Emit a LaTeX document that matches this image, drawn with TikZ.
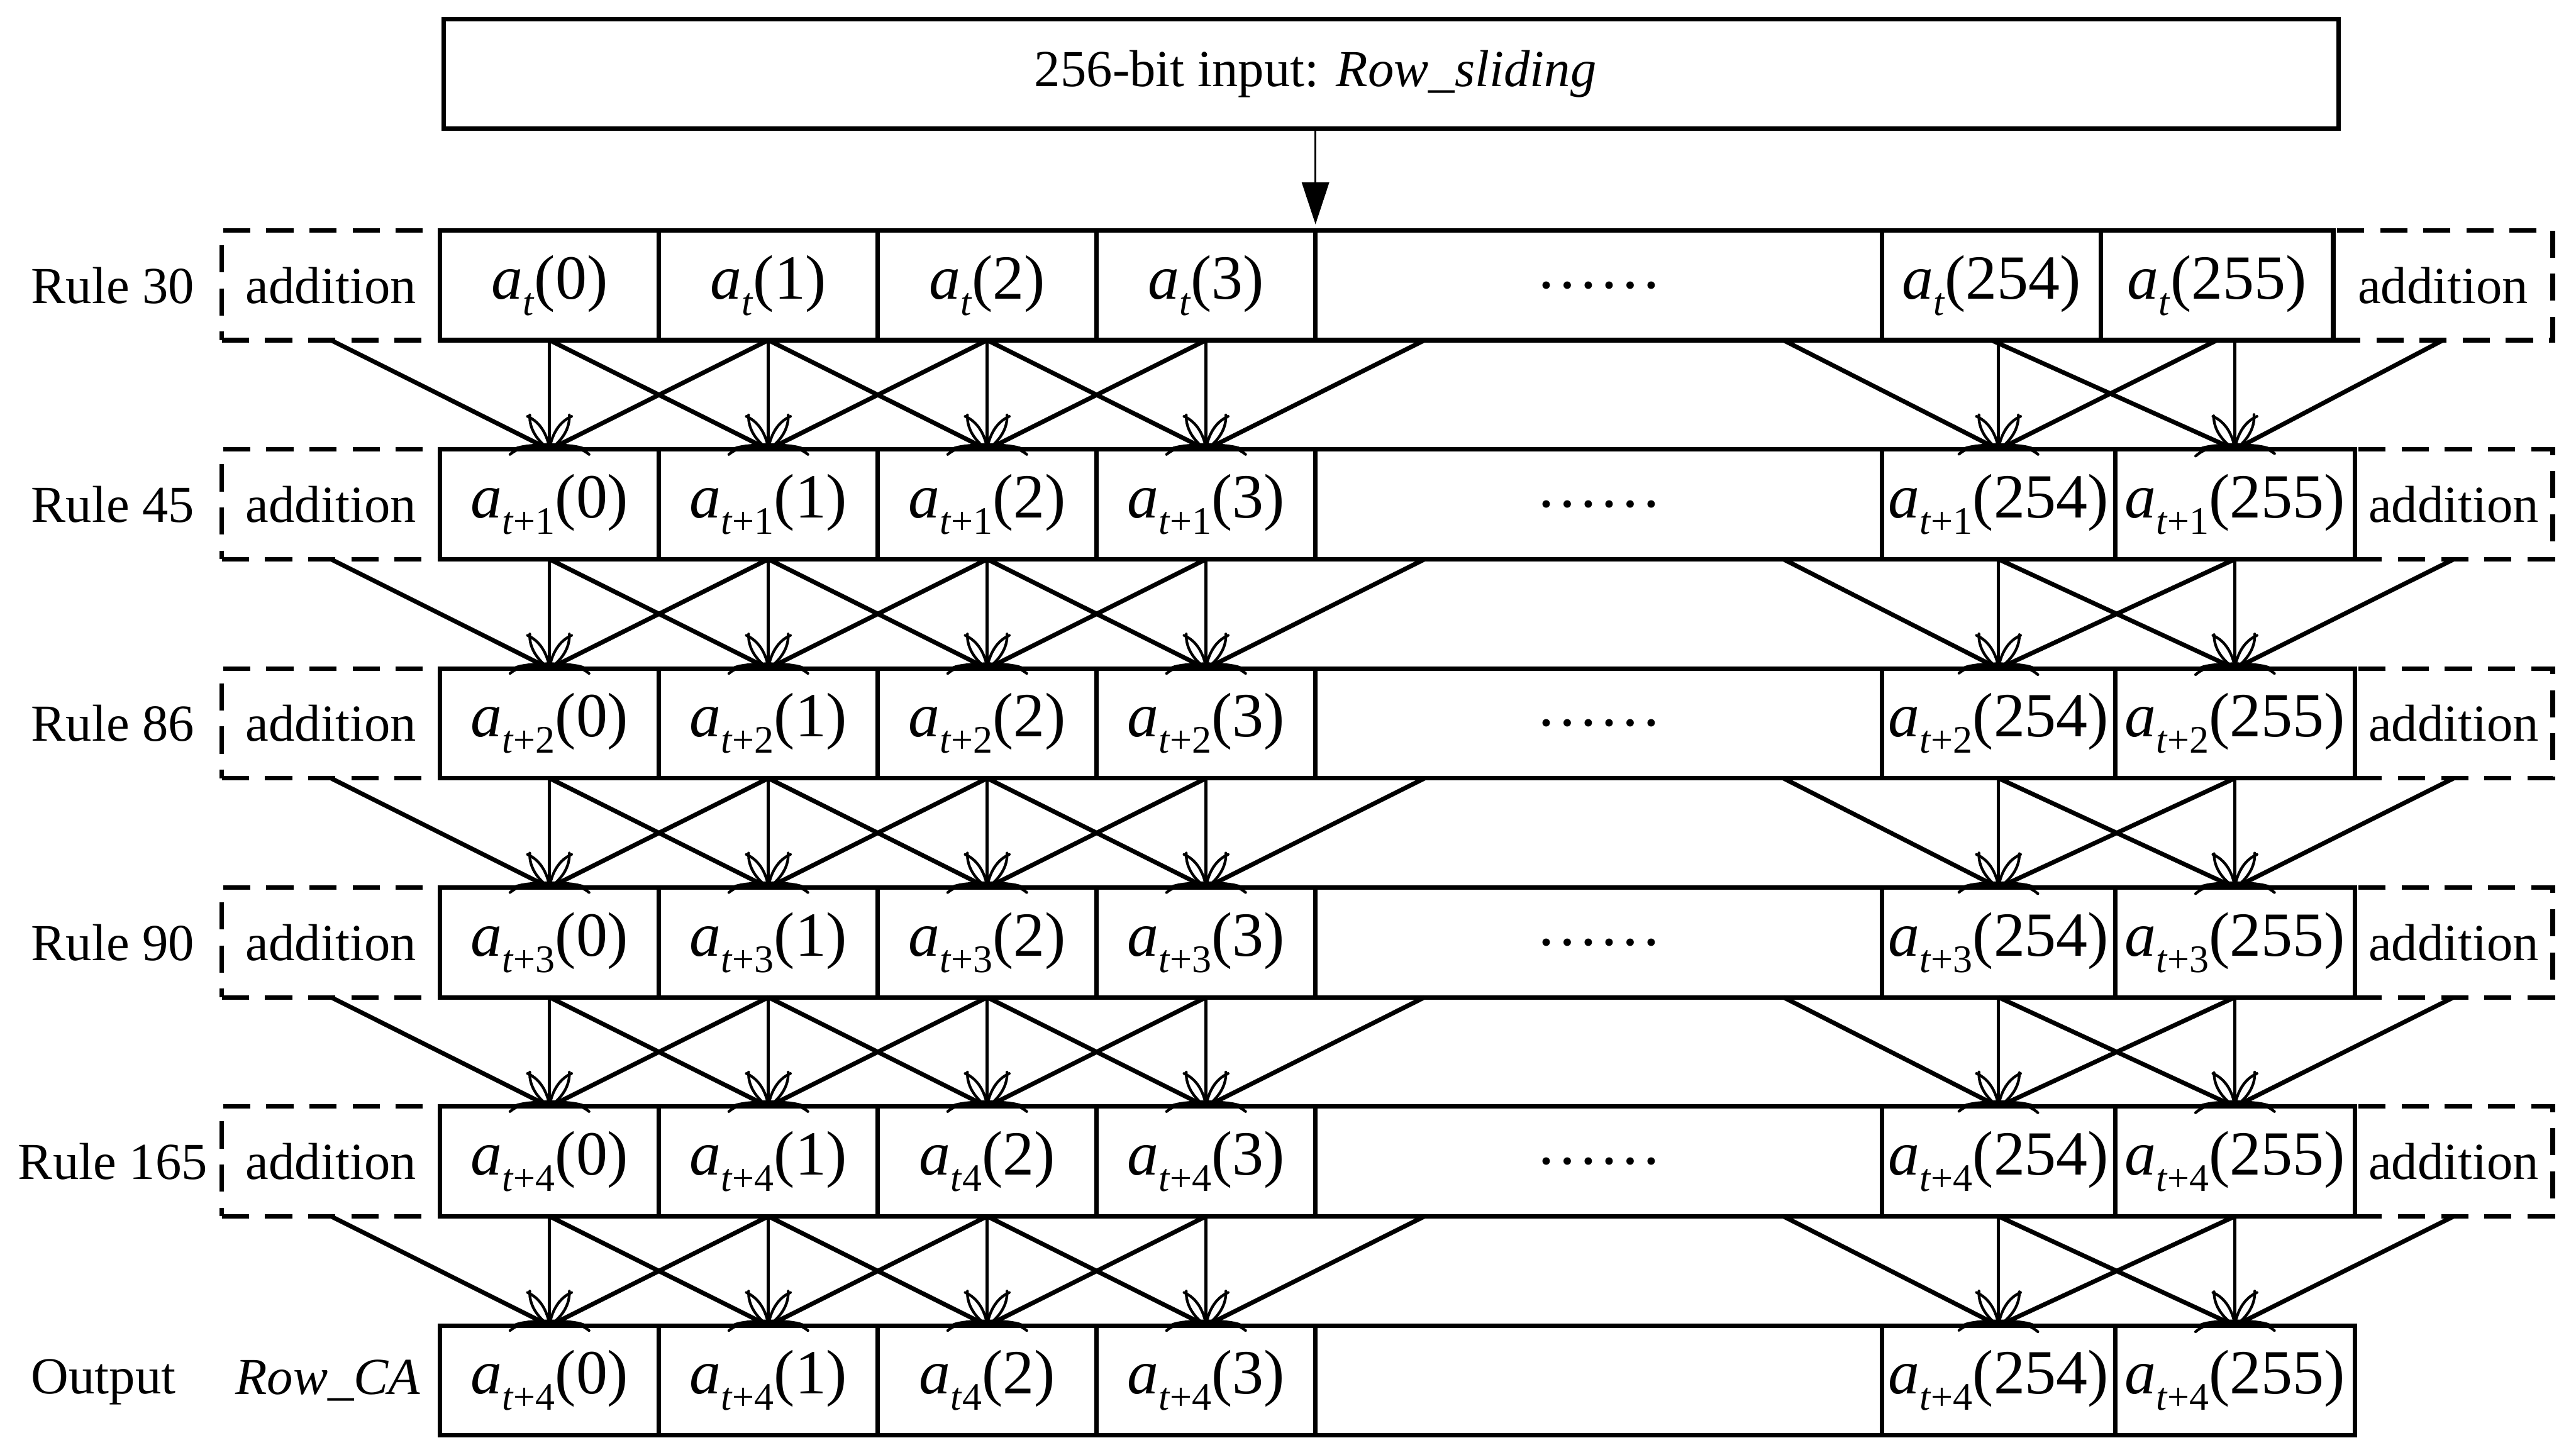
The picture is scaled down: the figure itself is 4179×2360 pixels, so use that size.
\documentclass[tikz,border=0pt]{standalone}
\usepackage{fontspec}
\setmainfont{Liberation Serif}
\usetikzlibrary{positioning,arrows.meta,calc}

% cell value a_{t..}(i), subscript set low as in the figure
\newcommand{\aval}[2]{\textit{a}\raisebox{-3.8pt}{\fontsize{9}{9}\selectfont\textit{t}#1}(#2)}

\begin{document}
\begin{tikzpicture}[
  x=0.05mm, y=-0.05mm,
  font=\fontsize{12}{14}\selectfont,
  cell/.style={draw, line width=0.36mm, minimum width=17.75mm, minimum height=8.9mm,
               inner sep=0pt, outer sep=0pt, font=\fontsize{14.5}{16}\selectfont},
  addbox/.style={draw, line width=0.36mm, dash pattern=on 2.2mm off 1.3mm,
                 minimum width=17.7mm, minimum height=8.9mm, inner sep=0pt, outer sep=0pt},
  rulelbl/.style={inner sep=0pt},
  link/.style={-{Computer Modern Rightarrow[length=2.8mm, width=3.8mm, line width=0.22mm]},
               line width=0.36mm},
  feed/.style={link, line width=0.24mm},
  inarrow/.style={-{Triangle[length=3.4mm, width=2.2mm]}, line width=0.15mm, shorten >=0.5mm},
]
\useasboundingbox (0,0) rectangle (4179,2360);

% input register
\node[cell, minimum width=153.7mm, font=\fontsize{12}{14}\selectfont] (input) at (2257,120) {};

% CA rows, one per rule
\foreach \k/\rl/\sa/\sb/\wa/\wb/\wc in {1/30/{}/{}/17.75/18.85/17.8,
    2/45/+1/+1/18.9/19.45/16.05, 3/86/+2/+2/18.9/19.45/16.05,
    4/90/+3/+3/18.9/19.45/16.05, 5/165/+4/4/18.9/19.45/16.05}{
  \pgfmathsetmacro{\y}{374+355.4*(\k-1)}
  \node[addbox, anchor=north east] (r\k la) at (714,\y) {addition};
  \node[cell, right=0pt of r\k la] (r\k c0) {\aval{\sa}{0}};
  \node[cell, right=0pt of r\k c0] (r\k c1) {\aval{\sa}{1}};
  \node[cell, right=0pt of r\k c1] (r\k c2) {\aval{\sb}{2}};
  \node[cell, right=0pt of r\k c2] (r\k c3) {\aval{\sa}{3}};
  \node[cell, minimum width=45.95mm, right=0pt of r\k c3] (r\k cd) {……};
  \node[cell, minimum width=\wa mm, right=0pt of r\k cd] (r\k c254) {\aval{\sa}{254}};
  \node[cell, minimum width=\wb mm, right=0pt of r\k c254] (r\k c255) {\aval{\sa}{255}};
  \node[addbox, minimum width=\wc mm, right=0pt of r\k c255] (r\k ra) {addition};
  \node[rulelbl] (rule\k) at ([xshift=-8.85mm]r\k la.west) {Rule \rl};
  \coordinate (r\k vl) at ([xshift=8.85mm]r\k cd.south west);
  \coordinate (r\k vr) at ([xshift=-8mm]r\k cd.south east);
}

% output row
\node[cell, anchor=north west] (r6c0) at (714,2151) {\aval{+4}{0}};
\node[cell, right=0pt of r6c0] (r6c1) {\aval{+4}{1}};
\node[cell, right=0pt of r6c1] (r6c2) {\aval{4}{2}};
\node[cell, right=0pt of r6c2] (r6c3) {\aval{+4}{3}};
\node[cell, minimum width=45.95mm, right=0pt of r6c3] (r6cd) {};
\node[cell, minimum width=18.9mm, right=0pt of r6cd] (r6c254) {\aval{+4}{254}};
\node[cell, minimum width=19.45mm, right=0pt of r6c254] (r6c255) {\aval{+4}{255}};
\node[rulelbl] (outlbl) at (168,2242) {Output};
\node[rulelbl] (rowca) at ([xshift=-9.1mm]r6c0.west) {\textit{Row\_CA}};

% input feed
\draw[inarrow] (input.south -| r1cd.north west) -- (r1cd.north west);
\node[rulelbl] (inputtxt) at (input.center -| r1cd.north west) {256-bit input: \textit{Row\_sliding}};

% neighbourhood links between rows
\foreach \k/\kk in {1/2, 2/3, 3/4, 4/5, 5/6}{
  \foreach \t in {c0, c1, c2, c3, c254, c255}{
    \draw[feed] (r\k \t.south -| r\kk \t.north) -- (r\kk \t.north);
  }
  \foreach \t/\l in {c0/la, c1/c0, c2/c1, c3/c2, c255/c254}{
    \draw[link] (r\k \l.south) -- (r\kk \t.north);
  }
  \foreach \t/\r in {c0/c1, c1/c2, c2/c3, c254/c255, c255/ra}{
    \draw[link] (r\k \r.south) -- (r\kk \t.north);
  }
  \draw[link] (r\k vl) -- (r\kk c3.north);
  \draw[link] (r\k vr) -- (r\kk c254.north);
  \foreach \t in {c0, c1, c2, c3, c254, c255}{
    \fill ([xshift=-3mm]r\kk \t.north) arc[start angle=180, end angle=0, x radius=3mm, y radius=0.5mm];
  }
}
\end{tikzpicture}
\end{document}
